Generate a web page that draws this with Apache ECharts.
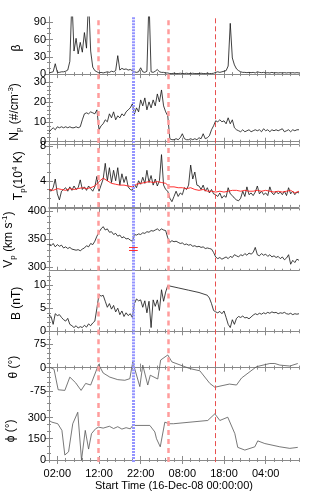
<!DOCTYPE html>
<html><head><meta charset="utf-8">
<script src="https://cdn.jsdelivr.net/npm/echarts@6/dist/echarts.min.js"></script>
<style>html,body{margin:0;padding:0;background:#fff}#c{width:315px;height:495px}</style>
</head><body><div id="c"></div>
<script>
// ---------------- DATA ----------------
const hours = [
0,0.5,1,1.5,2,2.5,3,3.5,4,4.5,
5,5.5,6,6.5,7,7.5,8,8.5,9,9.5,
10,10.5,11,11.5,12,12.5,13,13.5,14,14.5,
15,15.5,16,16.5,17,17.5,18,18.5,19,19.5,
20,20.5,21,21.5,22,22.5,23,23.5,24,24.5,
25,25.5,26,26.5,27,27.5,28,28.5,29,29.5,
30,30.5,31,31.5,32,32.5,33,33.5,34,34.5,
35,35.5,36,36.5,37,37.5,38,38.5,39,39.5,
40,40.5,41,41.5,42,42.5,43,43.5,44,44.5,
45,45.5,46,46.5,47,47.5,48,48.5,49,49.5,
50,50.5,51,51.5,52,52.5,53,53.5,54,54.5,
55,55.5,56,56.5,57,57.5,58,58.5,59,59.5,
60];
const beta = [
2,3,4,18,3,3,4,4,5,7,
22,130,40,62,35,55,38,72,45,130,
40,12,6,4,2,3,2,3,4,3,
5,4,6,32,7,10,8,9,7,8,
6,4,3,4,11,4,3,5,130,4,
3,5,8,4,3,3,2,2,1,1,
1.5,1,1,1.5,1,1,1.5,1,1,1.5,
1,1,1,1.5,1,1,1.5,1,1,1.5,
3,4,3,4,5,6,14,88,28,16,
9,6,4,3,3,2.5,3,2.5,3,2,
4,3,2.5,3,2,2.5,2,3,2,2.5,
2,2.5,2,2.5,2,2.5,2,2.5,2,2.5,
2];
const np = [
5,6,7,6,7.5,7,7.5,7,7.5,7,
7.5,7,7,7.5,7,7.5,11,14,14.5,14,
15,14.5,14,16,6,8,9,11,10,14,
12,15,11,13,12,14,13,15,16,17,
19,14,17,15,21,18,22,16,20,17,
21,18,24,20,26,18,15,13,1.5,1,
1,1.5,1,2,4,1.5,1,1,1.5,1,
1.5,1,2,1.5,4,1.5,2,3,6,8,
10.5,10,11,10,10.5,9,12,9,11,7,
6,5.5,5,6,5,5.5,6,5,5.5,6,
5.5,6,5,6.5,5.5,6,5,6,5.5,6,
5.5,6,6.5,5,5.5,6,5,6,5.5,6,
6];
const tp = [
3,2.8,3.2,4.2,2.5,1.8,2.8,3,3.2,2.8,
3.3,2.9,3.4,3,3.2,4.1,3,3.3,2.9,3.4,
3.1,2.8,3.3,4.5,2.8,3.5,4.2,6.0,4,5.5,
3.8,5.2,4,5.5,3.5,4.8,3.8,4.5,3.3,3.0,
2.9,3.6,3.2,4,3.6,4.4,3.7,5.2,3.8,4.6,
3.5,4.2,3.4,4,7,3.5,3,2.8,2,1.6,
2.2,2.8,2.2,2.6,2.4,3.2,3.0,3.5,5.8,4.2,
5.0,3.5,3.4,3,3.5,2.8,3.2,2.6,3,2.5,
2.4,2.2,2.6,2,2.3,2.1,3.2,2.5,2.3,2,
1.8,1.7,2,2.8,2.2,3.3,2.4,2.6,2.3,2.7,
3.4,2.5,2.8,2.4,2.6,2.3,3.3,2.6,2.4,2.8,
2.5,2.7,2.4,2.8,2.3,3.2,2.5,2.8,2.4,2.7,
2.6];
const modelHours = [
0,1,2,3,4,5,6,7,8,9,10,11,12,13,14,15,16,17,18,19,
20,21,22,23,24,25,26,27,28,29,30,31,32,33,34,35,36,37,38,39,
40,41,42,43,44,45,46,47,48,49,50,51,52,53,54,55,56,57,58,59,60];
const tpModel = [
3.0,2.9,3.1,3.0,2.9,3.1,3.0,3.1,3.2,3.1,3.2,3.4,3.9,4.3,4.0,3.7,3.6,3.5,3.5,3.4,
3.3,3.6,3.7,3.8,3.9,3.8,3.9,3.8,3.7,3.3,3.3,3.2,3.2,3.1,3.2,3.0,2.9,3.0,2.8,2.8,
2.7,2.8,2.7,2.8,2.9,2.9,2.8,2.9,2.8,2.8,2.9,2.8,2.9,2.8,2.7,2.8,2.7,2.8,2.9,2.6,2.8];
const vp = [
340,338,342,336,340,337,339,334,336,333,
335,332,331,330,331,329,332,334,338,336,
342,340,346,355,362,368,372,366,368,362,
363,358,360,355,357,352,354,350,351,348,
346,358,357,359,358,361,360,363,362,365,
364,366,368,365,368,366,365,352,344,347,
345,346,344,342,343,340,341,339,340,337,
338,336,337,335,336,333,334,333,332,326,
318,315,317,314,316,318,315,319,317,322,
320,318,322,320,324,321,325,323,326,335,
322,320,324,321,323,319,322,318,320,317,
319,315,318,313,316,322,305,312,308,314,
312];
const bMag = [
3.5,3.2,1.5,3.8,3.4,3.6,3.0,2.5,2.2,2.8,
1.5,1.2,0.8,1.2,0.7,1.0,0.8,1.3,0.9,1.6,
1.2,1.8,2.2,5.0,8.0,7.6,7.8,6.5,5.2,6.0,
4.8,5.6,4.2,5.0,3.6,4.4,3.2,4.0,3.4,3.8,
3.0,6.0,7.0,6.6,6.8,5.2,6.6,4.0,6.5,0.8,
6.8,5.4,6.8,4.5,9.0,6.5,8.5,9.9,9.8,null,
null,null,9.4,null,null,null,null,8.9,null,null,
null,null,8.4,null,null,null,7.8,7.2,6.0,4.5,
4.2,4.0,4.3,3.8,4.4,3.0,1.5,0.8,2.5,1.5,
2.8,3.2,3.0,3.3,2.9,3.0,2.7,3.1,3.5,3.8,
3.6,3.9,3.7,4.0,3.8,4.1,3.9,4.2,4.0,4.1,
3.8,4.0,3.9,4.1,3.8,3.7,3.9,3.6,3.8,3.7,
3.8];
const thetaHours = [0,1.2,2.2,3.8,5.0,6.4,7.7,8.8,10.0,11.9,13.0,14.6,16.5,18.2,19.4,20.1,21.8,22.5,23.7,24.3,26.1,26.8,28.5,29.5,33.8,36.2,38.6,39.8,43.3,45.0,46.2,49.8,53.0,54.2,55.4,57.8,59.7];
const thetaVals  = [2,-5,-70,-72,-30,-48,-72,-50,-55,10,-17,-30,-38,-40,-35,18,-60,8,-55,-24,-36,24,40,18,-3,-10,-50,-62,-52,-55,-33,3,13,13,8,5,13];
const phiHours = [0,0.7,2.1,3.1,3.8,4.7,5.7,6.9,7.8,8.7,9.5,10.2,11.2,11.9,13,14.5,15.5,16.5,17.5,18.5,19.5,20.1,24.2,25.4,25.8,26.7,27.8,28.8,29.9,38.1,39.8,41.0,42.9,44.6,45.3,47.0,49.4,50.1,51.8,55.4,57.8,59.7];
const phiVals  = [279,267,256,209,35,58,256,337,0,209,77,186,221,232,225,238,222,235,218,228,220,244,244,198,150,93,267,256,256,279,326,279,302,186,89,70,93,135,116,93,82,89];

const xTickHours = [2,12,22,32,42,52];
const xTickLabels = ['02:00','12:00','22:00','08:00','18:00','04:00'];
const xMinorHours = [0,4,6,8,10,14,16,18,20,24,26,28,30,34,36,38,40,44,46,48,50,54,56,58,60];
const betaTicks = [0,30,60,90], betaMinor = [10,20,40,50,70,80];
const npTicks = [0,10,20,30], npMinor = [2,4,6,8,12,14,16,18,22,24,26,28];
const tpTicks = [4,8], tpMinor = [2,3,5,6,7];
const vpTicks = [300,350,400], vpMinor = [310,320,330,340,360,370,380,390];
const bTicks = [0,5,10], bMinor = [1,2,3,4,6,7,8,9,11,12];
const thetaTicks = [-75,0,75], thetaMinor = [-90,-60,-45,-30,-15,15,30,45,60,90];
const phiTicks = [0,150,300], phiMinor = [50,100,200,250,350,400];
const eventHours = [11.85, 20.25, 28.65, 39.8];
const vpErrHours = [19.2, 21.3], vpErrVals = [335, 330];
const xTitle = 'Start Time (16-Dec-08 00:00:00)';

// ---------------- CHART ----------------
const FONT = 'Liberation Sans, Arial, Helvetica, sans-serif';
const G = '#8a8a8a';
const FS = 11;
const pair = (xs, ys) => xs.map((x, i) => [x, ys[i]]).filter(p => p[1] !== null);

const panels = [
  {name:'{b|β}', min:-9, max:99, ticks:betaTicks, minor:betaMinor},
  {name:'{b|N}{sub|p}{b| (#/cm}{sup|-3}{b|)}', min:-0.7, max:30.6, ticks:npTicks, minor:npMinor},
  {name:'{b|T}{sub|p}{b|(10}{sup|4}{b| K)}', min:1.0, max:8.15, ticks:tpTicks, minor:tpMinor},
  {name:'{b|V}{sub|p}{b| (km s}{sup|-1}{b|)}', min:293.5, max:404.5, ticks:vpTicks, minor:vpMinor},
  {name:'{b|B (nT)}', min:-0.7, max:12.8, ticks:bTicks, minor:bMinor},
  {name:'{b|θ (°)}', min:-97, max:100, ticks:thetaTicks, minor:thetaMinor},
  {name:'{b|ϕ (°)}', min:-15, max:425, ticks:phiTicks, minor:phiMinor}
];
const tops = [17, 80.8, 144.6, 208.4, 272.2, 336, 399.8];
const H = 62.3;

const grid = [], xAxis = [], yAxis = [], series = [];
const rich = {
  b:{fontSize:12, color:'#000', fontFamily:FONT},
  sub:{fontSize:8, color:'#000', fontFamily:FONT, padding:[8,0,0,0]},
  sup:{fontSize:8, color:'#000', fontFamily:FONT, padding:[0,0,8,0]}
};
panels.forEach((p, i) => {
  const last = i === panels.length - 1;
  grid.push({left:49, width:250, top:tops[i], height:H, containLabel:false, outerBoundsMode:'none'});
  const xb = {gridIndex:i, type:'value', min:0, max:60, splitLine:{show:false}};
  xAxis.push(Object.assign({}, xb, {position:'bottom',
    axisLine:{show:true, lineStyle:{color:G, width:1}},
    axisTick:{show:true, inside:true, length:4, customValues:xTickHours, lineStyle:{color:G}},
    axisLabel:{show:last, customValues:xTickHours, margin:6, color:'#000', fontSize:FS, fontFamily:FONT,
      formatter:v => xTickLabels[xTickHours.indexOf(v)] || ''},
    name:last ? xTitle : '', nameLocation:'middle', nameGap:17,
    nameTextStyle:{fontSize:FS, color:'#000', fontFamily:FONT}}));
  xAxis.push(Object.assign({}, xb, {position:'bottom', axisLine:{show:false},
    axisTick:{show:true, inside:true, length:2, customValues:xMinorHours, lineStyle:{color:G}}, axisLabel:{show:false}}));
  xAxis.push(Object.assign({}, xb, {position:'top', axisLine:{show:true, lineStyle:{color:G, width:1}},
    axisTick:{show:true, inside:true, length:4, customValues:xTickHours, lineStyle:{color:G}}, axisLabel:{show:false}}));
  xAxis.push(Object.assign({}, xb, {position:'top', axisLine:{show:false},
    axisTick:{show:true, inside:true, length:2, customValues:xMinorHours, lineStyle:{color:G}}, axisLabel:{show:false}}));

  const yb = {gridIndex:i, type:'value', min:p.min, max:p.max, splitLine:{show:false}};
  yAxis.push(Object.assign({}, yb, {position:'left',
    axisLine:{show:true, lineStyle:{color:G, width:1}},
    axisTick:{show:true, inside:true, length:4, customValues:p.ticks, lineStyle:{color:G}},
    axisLabel:{show:true, customValues:p.ticks, margin:3, color:'#000', fontSize:FS, fontFamily:FONT},
    name:p.name, nameLocation:'middle', nameRotate:90, nameGap:22,
    nameTextStyle:{rich:rich, fontSize:12, fontFamily:FONT, color:'#000'}}));
  yAxis.push(Object.assign({}, yb, {position:'left', axisLine:{show:false},
    axisTick:{show:true, inside:true, length:2, customValues:p.minor, lineStyle:{color:G}}, axisLabel:{show:false}}));
  yAxis.push(Object.assign({}, yb, {position:'right', axisLine:{show:true, lineStyle:{color:G, width:1}},
    axisTick:{show:true, inside:true, length:4, customValues:p.ticks, lineStyle:{color:G}}, axisLabel:{show:false}}));
  yAxis.push(Object.assign({}, yb, {position:'right', axisLine:{show:false},
    axisTick:{show:true, inside:true, length:2, customValues:p.minor, lineStyle:{color:G}}, axisLabel:{show:false}}));
});

const evStyles = [
  {color:'#ff9c9c', width:2.5, type:[5,4]},
  {color:'#9595ff', width:3, type:[2,1]},
  {color:'#ff9c9c', width:2.5, type:[5,4]},
  {color:'#e8504f', width:1, type:[5,3]}
];
function marks(extra) {
  const data = eventHours.map((h, k) => ({xAxis:h, lineStyle:evStyles[k]}));
  return {silent:true, symbol:['none','none'], label:{show:false}, animation:false,
    data: data.concat(extra || [])};
}
function line(i, data, color, width, withMarks, extra) {
  const s = {type:'line', xAxisIndex:4*i, yAxisIndex:4*i, data:data, showSymbol:false, symbol:'none',
    clip:true, animation:false, silent:true, lineStyle:{color:color, width:width}};
  if (withMarks) s.markLine = marks(extra);
  return s;
}
const vpErr = vpErrVals.map(v => [{coord:[vpErrHours[0], v], lineStyle:{color:'#ff3030', width:1, type:'solid'}},
                                   {coord:[vpErrHours[1], v]}]);
series.push(line(0, pair(hours, beta), '#111', 0.8, true));
series.push(line(1, pair(hours, np), '#111', 0.8, true));
series.push(line(2, pair(hours, tp), '#111', 0.8, true));
series.push(line(2, pair(modelHours, tpModel), '#ff1a1a', 0.9, false));
series.push(line(3, pair(hours, vp), '#111', 0.8, true, vpErr));
series.push(line(4, pair(hours, bMag), '#111', 0.8, true));
series.push(line(5, pair(thetaHours, thetaVals), '#555', 0.8, true));
series.push(line(6, pair(phiHours, phiVals), '#555', 0.8, true));

const chart = echarts.init(document.getElementById('c'), null, {renderer:'canvas'});
chart.setOption({animation:false, backgroundColor:'#fff', grid, xAxis, yAxis, series});
</script>
</body></html>
